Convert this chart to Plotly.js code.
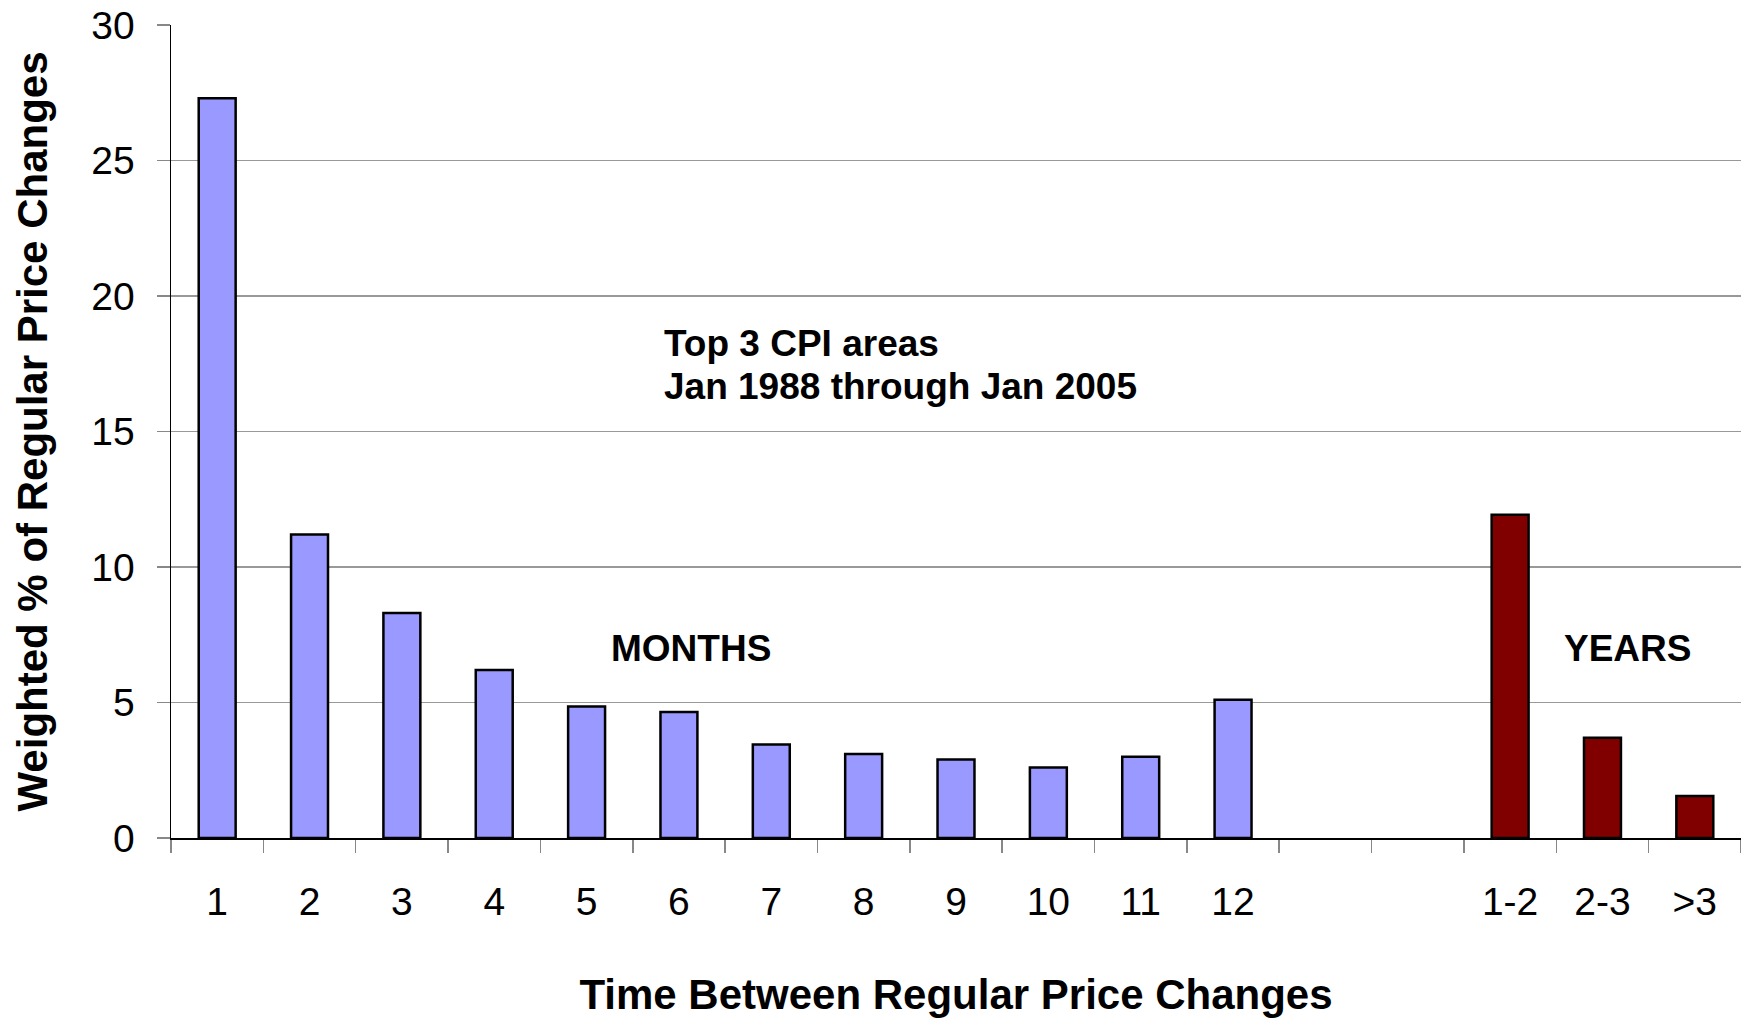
<!DOCTYPE html>
<html>
<head>
<meta charset="utf-8">
<script src="https://cdn.plot.ly/plotly-3.0.1.min.js"></script>
<style>
  html, body { margin: 0; padding: 0; background: #ffffff; }
  #chart { width: 1741px; height: 1018px; }
</style>
</head>
<body>
<div id="chart"></div>
<script>
// ---- data ----
const monthLabels = ['1', '2', '3', '4', '5', '6', '7', '8', '9', '10', '11', '12'];
const monthValues = [27.3, 11.2, 8.3, 6.2, 4.85, 4.65, 3.45, 3.1, 2.9, 2.6, 3.0, 5.1];
const gapLabels = ['\u00a0', '\u00a0\u00a0'];
const yearLabels = ['1-2', '2-3', '>3'];
const yearValues = [11.93, 3.7, 1.55];
const categories = monthLabels.concat(gapLabels, yearLabels);

const FONT = 'Liberation Sans, Arial, Helvetica, sans-serif';

const traces = [
  {
    type: 'bar',
    name: 'Months',
    x: monthLabels,
    y: monthValues,
    marker: { color: '#9999FF', line: { color: '#000000', width: 2.5 } },
    hoverinfo: 'x+y'
  },
  {
    type: 'bar',
    name: 'Years',
    x: yearLabels,
    y: yearValues,
    marker: { color: '#800000', line: { color: '#000000', width: 2.5 } },
    hoverinfo: 'x+y'
  }
];

const layout = {
  width: 1741,
  height: 1018,
  margin: { l: 171, r: 0, t: 25, b: 180 },
  paper_bgcolor: '#ffffff',
  plot_bgcolor: '#ffffff',
  showlegend: false,
  barmode: 'overlay',
  bargap: 0.6,
  font: { family: FONT, color: '#000000', size: 39 },
  xaxis: {
    type: 'category',
    categoryorder: 'array',
    categoryarray: categories,
    range: [-0.5, categories.length - 0.5],
    showgrid: false,
    zeroline: false,
    showline: true,
    linecolor: '#000000',
    linewidth: 2,
    ticks: 'outside',
    tickson: 'boundaries',
    ticklen: 13,
    tickwidth: 1.5,
    tickcolor: '#888888',
    ticklabelstandoff: 28,
    tickfont: { family: FONT, size: 39, color: '#000000' },
    automargin: false,
    title: {
      text: '<b>Time Between Regular Price Changes</b>',
      font: { family: FONT, size: 42, color: '#000000' },
      standoff: 60
    }
  },
  yaxis: {
    range: [0, 30],
    dtick: 5,
    tick0: 0,
    showgrid: true,
    gridcolor: '#999999',
    gridwidth: 1.5,
    zeroline: false,
    showline: true,
    linecolor: '#000000',
    linewidth: 1.5,
    ticks: 'outside',
    ticklen: 13,
    tickwidth: 1.5,
    tickcolor: '#888888',
    ticklabelstandoff: 14,
    tickfont: { family: FONT, size: 39, color: '#000000' },
    automargin: false,
    title: {
      text: '<b>Weighted % of Regular Price Changes</b>',
      font: { family: FONT, size: 42, color: '#000000' },
      standoff: 30
    }
  },
  annotations: [
    {
      text: '<b>Top 3 CPI areas</b>',
      xref: 'paper', yref: 'paper',
      x: 0.3127, y: 0.6083,
      xanchor: 'left', yanchor: 'middle',
      showarrow: false,
      font: { family: FONT, size: 37, color: '#000000' }
    },
    {
      text: '<b>Jan 1988 through Jan 2005</b>',
      xref: 'paper', yref: 'paper',
      x: 0.3127, y: 0.5554,
      xanchor: 'left', yanchor: 'middle',
      showarrow: false,
      font: { family: FONT, size: 37, color: '#000000' }
    },
    {
      text: '<b>MONTHS</b>',
      xref: 'paper', yref: 'paper',
      x: 0.3312, y: 0.2331,
      xanchor: 'center', yanchor: 'middle',
      showarrow: false,
      font: { family: FONT, size: 37, color: '#000000' }
    },
    {
      text: '<b>YEARS</b>',
      xref: 'paper', yref: 'paper',
      x: 0.9274, y: 0.2331,
      xanchor: 'center', yanchor: 'middle',
      showarrow: false,
      font: { family: FONT, size: 37, color: '#000000' }
    }
  ]
};

Plotly.newPlot('chart', traces, layout, { displayModeBar: false, staticPlot: true });
</script>
</body>
</html>
